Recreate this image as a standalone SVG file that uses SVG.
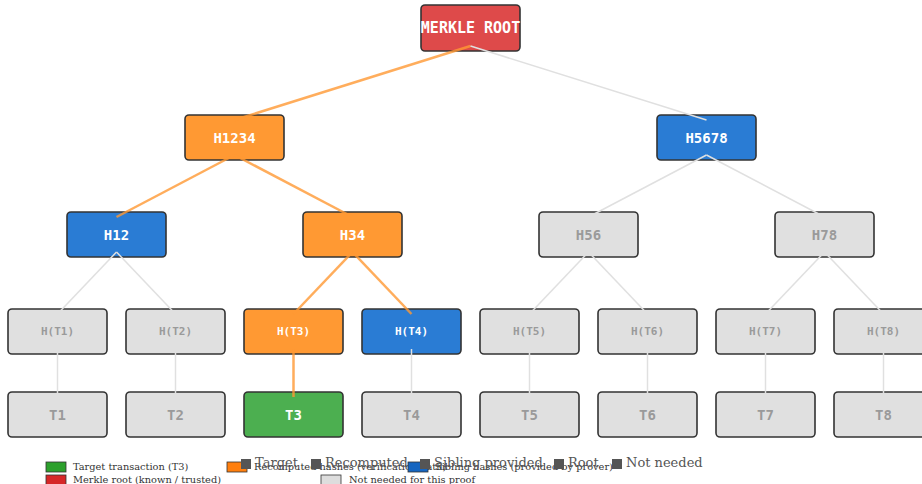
<svg xmlns="http://www.w3.org/2000/svg" width="922" height="484" viewBox="0 0 922 484">
<style>
.n rect{stroke:#333;stroke-width:1.6}
.n text{font-family:"DejaVu Sans Mono",monospace;font-weight:bold;text-anchor:middle;dominant-baseline:central}
.red rect{fill:#de4a4a}.org rect{fill:#ff9933}.blu rect{fill:#2a7cd4}.grn rect{fill:#4caf50}.gry rect{fill:#e0e0e0}
.red text,.org text,.blu text,.grn text{fill:#fff}.gry text{fill:#9a9a9a}
.l2 text{font-size:14px}.l3 text{font-size:11px}
.e line{fill:none}
.path{stroke:#ff9933;stroke-opacity:0.8;stroke-width:2.5}
.off{stroke:#e0e0e0;stroke-width:1.5}
.lg1{font-family:"DejaVu Serif",serif;font-size:9.8px;fill:#333}
.lg2{font-family:"DejaVu Serif",serif;font-size:13px;fill:#555}
.pt{stroke:#333;stroke-width:0.8}
</style>
<rect width="922" height="484" fill="#fff"/>
<g id="n-root" class="n red"><rect x="421" y="5" width="99" height="46" rx="4"/><text x="470.5" y="28" font-size="15">MERKLE ROOT</text></g>
<g id="n-h1234" class="n org l2"><rect x="185" y="115" width="99" height="45" rx="4"/><text x="234.5" y="137.5">H1234</text></g>
<g id="n-h5678" class="n blu l2"><rect x="657" y="115" width="99" height="45" rx="4"/><text x="706.5" y="137.5">H5678</text></g>
<g id="n-h12" class="n blu l2"><rect x="67" y="212" width="99" height="45" rx="4"/><text x="116.5" y="234.5">H12</text></g>
<g id="n-h34" class="n org l2"><rect x="303" y="212" width="99" height="45" rx="4"/><text x="352.5" y="234.5">H34</text></g>
<g id="n-h56" class="n gry l2"><rect x="539" y="212" width="99" height="45" rx="4"/><text x="588.5" y="234.5">H56</text></g>
<g id="n-h78" class="n gry l2"><rect x="775" y="212" width="99" height="45" rx="4"/><text x="824.5" y="234.5">H78</text></g>
<g id="n-ht1" class="n gry l3"><rect x="8" y="309" width="99" height="45" rx="4"/><text x="57.5" y="331.5">H(T1)</text></g>
<g id="n-ht2" class="n gry l3"><rect x="126" y="309" width="99" height="45" rx="4"/><text x="175.5" y="331.5">H(T2)</text></g>
<g id="n-ht3" class="n org l3"><rect x="244" y="309" width="99" height="45" rx="4"/><text x="293.5" y="331.5">H(T3)</text></g>
<g id="n-ht4" class="n blu l3"><rect x="362" y="309" width="99" height="45" rx="4"/><text x="411.5" y="331.5">H(T4)</text></g>
<g id="n-ht5" class="n gry l3"><rect x="480" y="309" width="99" height="45" rx="4"/><text x="529.5" y="331.5">H(T5)</text></g>
<g id="n-ht6" class="n gry l3"><rect x="598" y="309" width="99" height="45" rx="4"/><text x="647.5" y="331.5">H(T6)</text></g>
<g id="n-ht7" class="n gry l3"><rect x="716" y="309" width="99" height="45" rx="4"/><text x="765.5" y="331.5">H(T7)</text></g>
<g id="n-ht8" class="n gry l3"><rect x="834" y="309" width="99" height="45" rx="4"/><text x="883.5" y="331.5">H(T8)</text></g>
<g id="n-t1" class="n gry l2"><rect x="8" y="392" width="99" height="45" rx="4"/><text x="57.5" y="414.5">T1</text></g>
<g id="n-t2" class="n gry l2"><rect x="126" y="392" width="99" height="45" rx="4"/><text x="175.5" y="414.5">T2</text></g>
<g id="n-t3" class="n grn l2"><rect x="244" y="392" width="99" height="45" rx="4"/><text x="293.5" y="414.5">T3</text></g>
<g id="n-t4" class="n gry l2"><rect x="362" y="392" width="99" height="45" rx="4"/><text x="411.5" y="414.5">T4</text></g>
<g id="n-t5" class="n gry l2"><rect x="480" y="392" width="99" height="45" rx="4"/><text x="529.5" y="414.5">T5</text></g>
<g id="n-t6" class="n gry l2"><rect x="598" y="392" width="99" height="45" rx="4"/><text x="647.5" y="414.5">T6</text></g>
<g id="n-t7" class="n gry l2"><rect x="716" y="392" width="99" height="45" rx="4"/><text x="765.5" y="414.5">T7</text></g>
<g id="n-t8" class="n gry l2"><rect x="834" y="392" width="99" height="45" rx="4"/><text x="883.5" y="414.5">T8</text></g>
<g id="edges" class="e">
<line class="path" x1="470.5" y1="46" x2="234.5" y2="120"/>
<line class="off" x1="470.5" y1="46" x2="706.5" y2="120"/>
<line class="path" x1="234.5" y1="155" x2="116.5" y2="217"/>
<line class="path" x1="234.5" y1="155" x2="352.5" y2="217"/>
<line class="off" x1="706.5" y1="155" x2="588.5" y2="217"/>
<line class="off" x1="706.5" y1="155" x2="824.5" y2="217"/>
<line class="off" x1="116.5" y1="252" x2="57.5" y2="314"/>
<line class="off" x1="116.5" y1="252" x2="175.5" y2="314"/>
<line class="path" x1="352.5" y1="252" x2="293.5" y2="314"/>
<line class="path" x1="352.5" y1="252" x2="411.5" y2="314"/>
<line class="off" x1="588.5" y1="252" x2="529.5" y2="314"/>
<line class="off" x1="588.5" y1="252" x2="647.5" y2="314"/>
<line class="off" x1="824.5" y1="252" x2="765.5" y2="314"/>
<line class="off" x1="824.5" y1="252" x2="883.5" y2="314"/>
<line class="off" x1="57.5" y1="349" x2="57.5" y2="397"/>
<line class="off" x1="175.5" y1="349" x2="175.5" y2="397"/>
<line class="path" x1="293.5" y1="349" x2="293.5" y2="397"/>
<line class="off" x1="411.5" y1="349" x2="411.5" y2="397"/>
<line class="off" x1="529.5" y1="349" x2="529.5" y2="397"/>
<line class="off" x1="647.5" y1="349" x2="647.5" y2="397"/>
<line class="off" x1="765.5" y1="349" x2="765.5" y2="397"/>
<line class="off" x1="883.5" y1="349" x2="883.5" y2="397"/>
</g>
<g id="legend1">
<rect class="pt" x="46" y="462" width="20" height="10" fill="#2ca02c"/>
<text class="lg1" x="73" y="470">Target transaction (T3)</text>
<rect class="pt" x="46" y="475" width="20" height="10" fill="#d62728"/>
<text class="lg1" x="73" y="483">Merkle root (known / trusted)</text>
<rect class="pt" x="227" y="462" width="20" height="10" fill="#ff7f0e"/>
<text class="lg1" x="254" y="470">Recomputed hashes (verification path)</text>
<rect class="pt" x="321" y="475" width="20" height="10" fill="#dddddd"/>
<text class="lg1" x="349" y="483">Not needed for this proof</text>
<rect class="pt" x="408" y="462" width="20" height="10" fill="#1565c0"/>
<text class="lg1" x="435" y="470">Sibling hashes (provided by prover)</text>
</g>
<g id="legend2">
<rect x="241" y="459" width="10" height="10" fill="#555"/><text class="lg2" x="255" y="467">Target</text>
<rect x="311" y="459" width="10" height="10" fill="#555"/><text class="lg2" x="325" y="467">Recomputed</text>
<rect x="420" y="459" width="10" height="10" fill="#555"/><text class="lg2" x="434" y="467">Sibling provided</text>
<rect x="554" y="459" width="10" height="10" fill="#555"/><text class="lg2" x="568" y="467">Root</text>
<rect x="612" y="459" width="10" height="10" fill="#555"/><text class="lg2" x="626" y="467">Not needed</text>
</g>
</svg>
